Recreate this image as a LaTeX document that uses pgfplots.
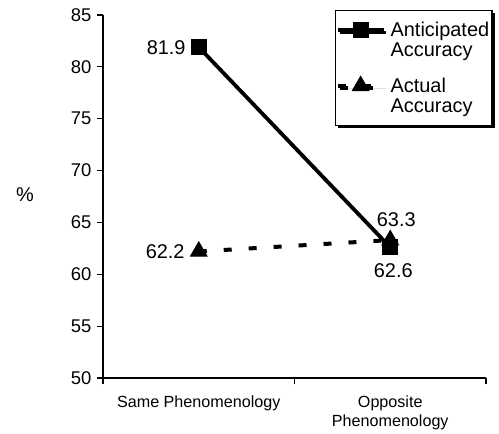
\documentclass[border=0pt]{standalone}
\usepackage{pgfplots}
\pgfplotsset{compat=1.18}
\usepackage{fontspec}
\setmainfont{Liberation Sans}
\usetikzlibrary{shadows}
\begin{document}
\begin{tikzpicture}[font=\fontsize{18}{21}\selectfont]
\begin{axis}[
  at={(0,0)}, anchor=south west,
  scale only axis, width=383bp, height=363bp,
  xmin=-0.5, xmax=1.5, ymin=50, ymax=85,
  axis lines*=left,
  axis line style={line width=1.4bp},
  ytick={50,55,...,85},
  yticklabel style={font=\fontsize{18.5}{21}\selectfont, xshift=-2bp},
  tick align=outside,
  major tick length=6bp,
  tick style={line width=1.2bp, black},
  xtick={-0.5,0.5,1.5}, xticklabels={},
  extra x ticks={0,1},
  extra x tick labels={Same Phenomenology, {Opposite\\Phenomenology}},
  extra x tick style={major tick length=0pt, xticklabel style={align=center, anchor=north, yshift=-14bp, font=\fontsize{16.2}{19}\selectfont}},
  ylabel={\%},
  ylabel style={rotate=-90, at={(axis description cs:-0.204,0.504)}, anchor=center, font=\fontsize{20}{22}\selectfont},
  /pgf/number format/assume math mode=true,
  reverse legend,
  legend cell align=left,
  legend style={at={(rel axis cs:1.018,1.014)}, anchor=north east, draw=black, line width=1.4bp, fill=white,
     drop shadow={shadow xshift=2.5bp, shadow yshift=-2.5bp, fill=black, opacity=1},
     font=\fontsize{20}{20}\selectfont,
     nodes={inner xsep=3bp, inner ysep=2bp},
     cells={align=left}, inner xsep=0bp, inner ysep=8bp, row sep=13bp, column sep=2bp},
  legend image code/.code={%
    \path (0bp,-19.5bp) (0bp,19.5bp);
    \draw[mark repeat=2,mark phase=2,yshift=10bp,#1] plot coordinates {(0bp,0bp) (23bp,0bp) (46bp,0bp)};},
]
\addplot[black, line width=4bp, dash pattern=on 8bp off 17bp, mark=triangle*, mark size=9.5bp, mark options={solid, line width=1bp}] coordinates {(0,62.2) (1,63.3)};
\addlegendentry{Actual\\Accuracy}
\addplot[black, line width=3.8bp, mark=square*, mark size=7.5bp, mark options={solid, line width=1bp}] coordinates {(0,81.9) (1,62.6)};
\addlegendentry{Anticipated\\Accuracy}
\node[anchor=east, inner sep=0pt, xshift=-13bp, font=\fontsize{20}{21}\selectfont] at (axis cs:0,81.9) {81.9};
\node[anchor=east, inner sep=0pt, xshift=-14bp, font=\fontsize{20}{21}\selectfont] at (axis cs:0,62.2) {62.2};
\node[anchor=center, inner sep=0pt, xshift=6bp, yshift=20bp, font=\fontsize{20}{21}\selectfont] at (axis cs:1,63.3) {63.3};
\node[anchor=center, inner sep=0pt, xshift=3bp, yshift=-23bp, font=\fontsize{20}{21}\selectfont] at (axis cs:1,62.6) {62.6};
\end{axis}
\path[use as bounding box] (-103bp,-56bp) rectangle (396bp,378bp);
\end{tikzpicture}
\end{document}
